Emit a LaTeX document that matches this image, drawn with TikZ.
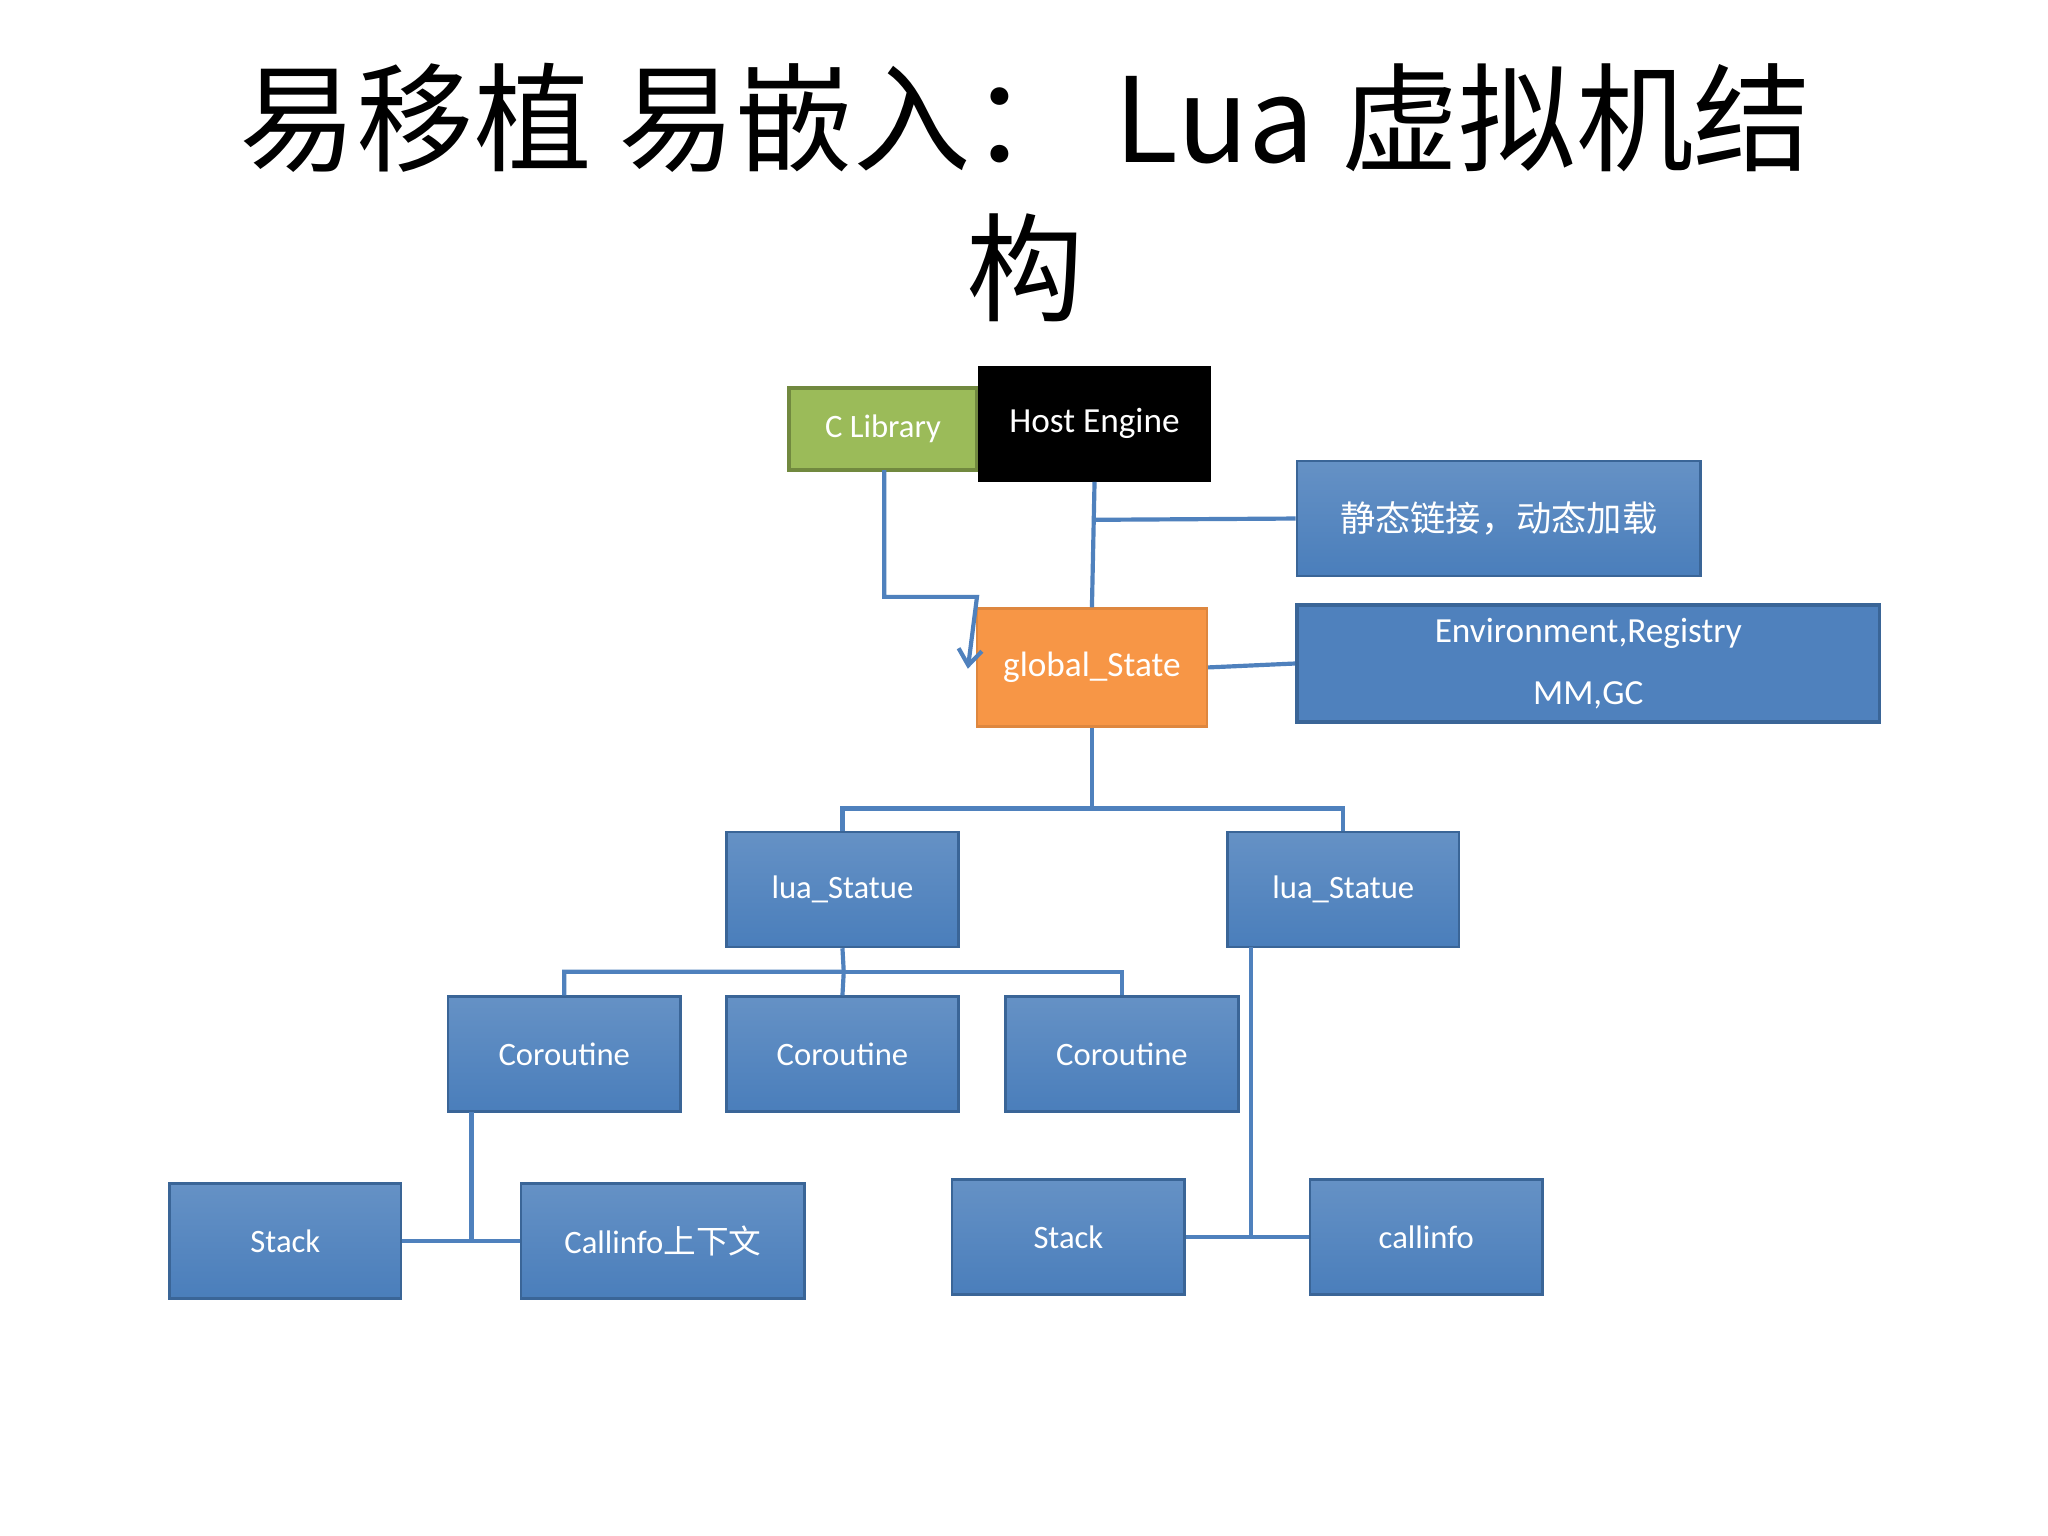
\documentclass[tikz,border=0pt]{standalone}
\usepackage{fontspec}
\setmainfont{Carlito}
\newfontfamily\cjk{Noto Sans CJK SC}
\usetikzlibrary{arrows.meta}
\definecolor{bx}{HTML}{4A7EBB}
\definecolor{bxd}{HTML}{3A6597}
\definecolor{ln}{HTML}{4F81BD}
\definecolor{gr}{HTML}{9BBB59}
\definecolor{grd}{HTML}{71893F}
\definecolor{og}{HTML}{F79646}
\begin{document}
\begin{tikzpicture}[x=0.5pt,y=-0.5pt,
  box/.style={draw=bxd,line width=1pt,top color=bx!85!white,bottom color=bx,text=white,font=\fontsize{12.5}{15}\selectfont,inner sep=0pt},
  con/.style={draw=ln,line width=1.6pt}]
\fill[white] (0,0) rectangle (1568,1176);
\node[font=\cjk\fontsize{45}{54}\selectfont] (t1) at (785,90) {易移植 易嵌入： Lua 虚拟机结};
\node[font=\cjk\fontsize{45}{54}\selectfont] (t2) at (785,205) {构};
\newcommand\bb[6]{\node[#6,minimum width={(#3-#2)*0.5pt},minimum height={(#5-#4)*0.5pt}] (#1) at ({(#2+#3)/2},{(#4+#5)/2})}
\bb{cl}{604}{748}{297}{360}{box,fill=gr,top color=gr,bottom color=gr,draw=grd,line width=1.5pt}{C Library};
\bb{he}{750}{926}{281}{368}{box,top color=black,bottom color=black,draw=black,font=\fontsize{13.5}{16}\selectfont}{Host Engine};
\bb{jt}{993}{1302}{353}{441}{box,font=\cjk\fontsize{13.5}{16}\selectfont}{静态链接，动态加载};
\bb{env}{993}{1439}{463}{553}{box,top color=ln,bottom color=ln,line width=1.5pt,align=center,font=\fontsize{13.5}{24}\selectfont}{Environment,Registry\\MM,GC};
\bb{gs}{748}{924}{466}{556}{box,top color=og,bottom color=og,draw=og!90!black,font=\fontsize{13.5}{16}\selectfont}{global\_State};
\bb{l1}{556}{734}{637}{725}{box}{lua\_Statue};
\bb{l2}{940}{1117}{637}{725}{box}{lua\_Statue};
\bb{c1}{343}{521}{763}{851}{box}{Coroutine};
\bb{c2}{556}{734}{763}{851}{box}{Coroutine};
\bb{c3}{770}{948}{763}{851}{box}{Coroutine};
\bb{s1}{130}{307}{906}{994}{box}{Stack};
\bb{ci1}{399}{616}{906}{994}{box}{Callinfo{\cjk 上下文}};
\bb{s2}{729}{907}{903}{991}{box}{Stack};
\bb{ci2}{1003}{1181}{903}{991}{box}{callinfo};
\coordinate (hb) at (837,398);
\draw[con] (he.south) -- (gs.north);
\draw[con] (hb) -- (jt.west);
\draw[con,-{Straight Barb[length=6pt,width=9pt]}] (677,360) -- (677,457) -- (748,457) -- (741,512);
\draw[con] (gs.east) -- (env.west);
\draw[con] (gs.south) -- (836,619) -| (l1.north);
\draw[con] (836,619) -| (l2.north);
\draw[con] (l1.south) -- (646,744) -| (c1.north);
\draw[con] (646,744) -- (c2.north);
\draw[con] (646,744) -| (c3.north);
\draw[con] (361,851) -- (361,949);
\draw[con] (s1.east) -- (ci1.west);
\draw[con] (958,725) -- (958,946);
\draw[con] (s2.east) -- (ci2.west);
\end{tikzpicture}
\end{document}
